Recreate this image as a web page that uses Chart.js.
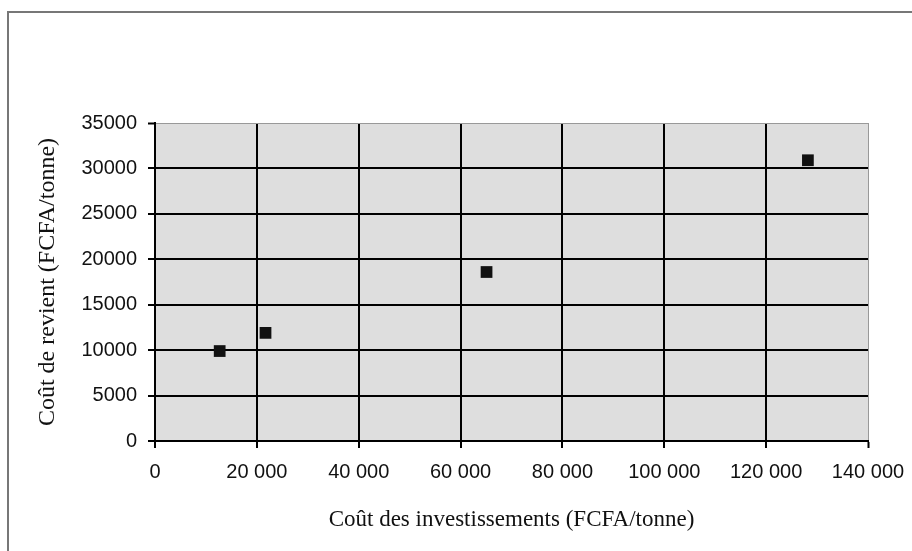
<!DOCTYPE html>
<html>
<head>
<meta charset="utf-8">
<script src="https://cdn.jsdelivr.net/npm/chart.js@4.4.0/dist/chart.umd.min.js"></script>
<style>
  html, body { margin: 0; padding: 0; background: #fff; }
  #wrap { width: 912px; height: 551px; position: relative; }
</style>
</head>
<body>
<div id="wrap"><canvas id="chart" width="912" height="551"></canvas></div>
<script>
// investment cost (FCFA/tonne) vs cost price (FCFA/tonne)
const investissements = [12700, 21700, 65100, 128200];
const coutRevient = [9900, 11900, 18600, 30900];
const xTicks = [0, 20000, 40000, 60000, 80000, 100000, 120000, 140000];
const yTicks = [0, 5000, 10000, 15000, 20000, 25000, 30000, 35000];

const points = investissements.map((x, i) => ({ x: x, y: coutRevient[i] }));

const spaced = v => String(v).replace(/\B(?=(\d{3})+(?!\d))/g, ' ');

// gray plot area + outer frame
const backdrop = {
  id: 'backdrop',
  beforeDraw(chart) {
    const { ctx, chartArea: a } = chart;
    ctx.save();
    ctx.fillStyle = '#777';
    ctx.fillRect(7, 11, 2, 540);
    ctx.fillRect(7, 11, 905, 2);
    ctx.fillStyle = '#dedede';
    ctx.fillRect(a.left, a.top, a.right - a.left, a.bottom - a.top);
    ctx.restore();
  }
};

new Chart(document.getElementById('chart'), {
  type: 'scatter',
  data: {
    datasets: [{
      data: points,
      pointStyle: 'rect',
      pointRadius: 8.3,
      pointHoverRadius: 8.3,
      backgroundColor: '#111',
      borderColor: '#111',
      borderWidth: 0
    }]
  },
  plugins: [backdrop],
  options: {
    responsive: false,
    animation: false,
    layout: { padding: { top: 123, right: 44, bottom: 0, left: 0 } },
    plugins: { legend: { display: false }, tooltip: { enabled: false } },
    scales: {
      x: {
        type: 'linear',
        min: 0,
        max: 140000,
        afterFit: s => { s.height = 110; s.paddingLeft = 0; s.paddingRight = 0; },
        afterBuildTicks: s => { s.ticks = xTicks.map(v => ({ value: v })); },
        ticks: {
          color: '#111',
          padding: 12,
          font: { family: 'Liberation Sans, Arial', size: 20 },
          callback: v => spaced(v)
        },
        grid: {
          lineWidth: c => c.tick && c.tick.value === 140000 ? 1 : 2,
          color: c => c.tick && c.tick.value === 140000 ? '#999' : '#000',
          tickColor: '#000',
          tickWidth: 2,
          tickLength: 7
        },
        border: { color: '#000', width: 2 },
        title: {
          display: true,
          text: 'Coût des investissements (FCFA/tonne)',
          color: '#111',
          font: { family: 'Liberation Serif, Times New Roman', size: 23 },
          padding: { top: 0, bottom: 17 }
        }
      },
      y: {
        type: 'linear',
        min: 0,
        max: 35000,
        afterFit: s => { s.width = 155; s.paddingTop = 0; s.paddingBottom = 0; },
        afterBuildTicks: s => { s.ticks = yTicks.map(v => ({ value: v })); },
        ticks: {
          color: '#111',
          padding: 11,
          font: { family: 'Liberation Sans, Arial', size: 20 },
          callback: v => String(v)
        },
        grid: {
          lineWidth: c => c.tick && c.tick.value === 35000 ? 1 : 2,
          color: c => c.tick && c.tick.value === 35000 ? '#999' : '#000',
          tickColor: '#000',
          tickWidth: 2,
          tickLength: 7
        },
        border: { color: '#000', width: 2 },
        title: {
          display: true,
          text: 'Coût de revient (FCFA/tonne)',
          color: '#111',
          font: { family: 'Liberation Serif, Times New Roman', size: 24 },
          padding: { top: 33, bottom: 0 }
        }
      }
    }
  }
});
</script>
</body>
</html>
